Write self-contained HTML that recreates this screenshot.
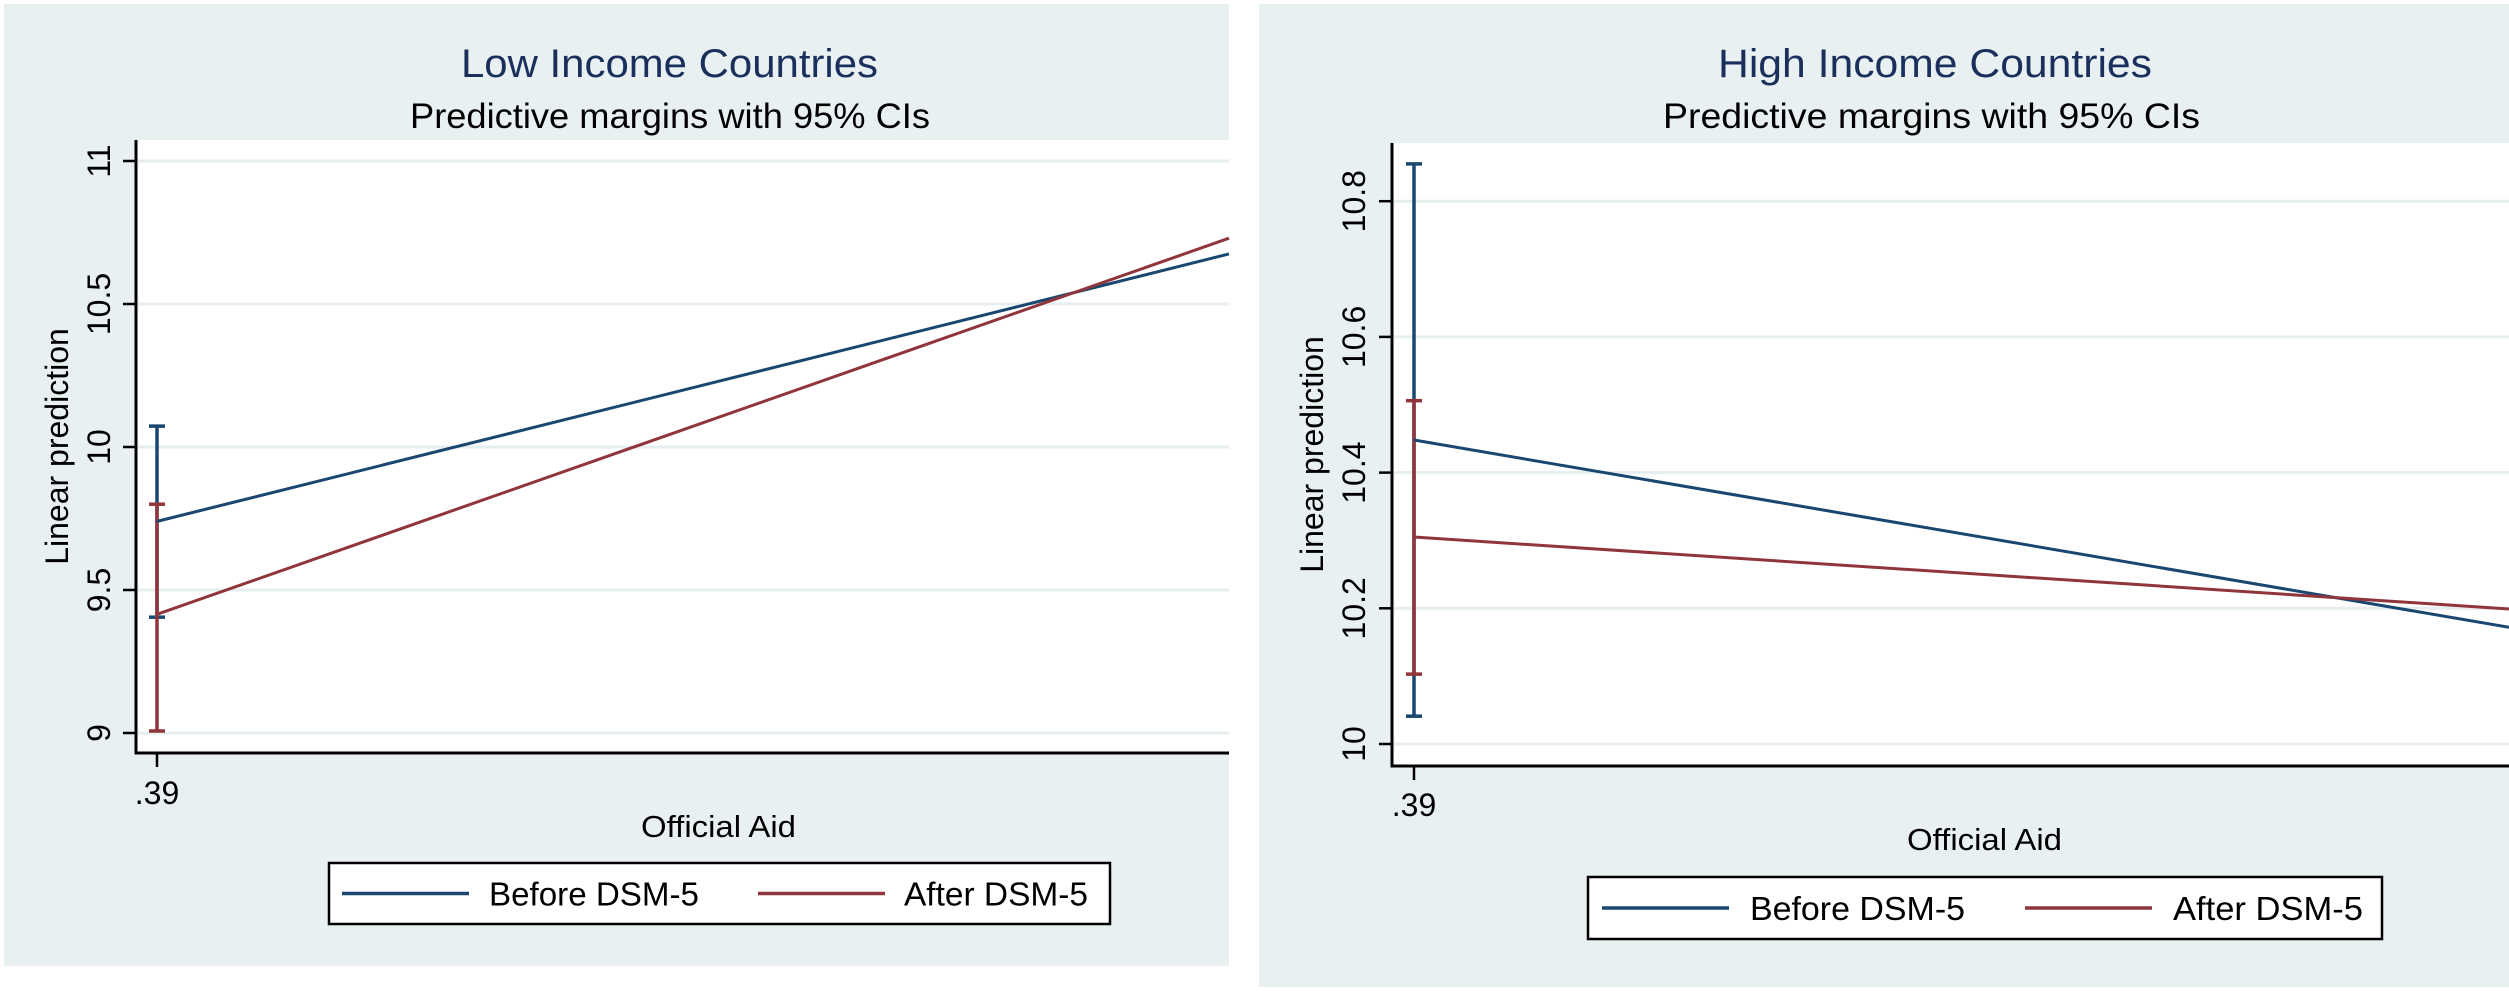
<!DOCTYPE html>
<html><head><meta charset="utf-8"><style>
html,body{margin:0;padding:0;background:#fff;}
svg{display:block;font-family:"Liberation Sans",Arial,sans-serif;}
</style></head>
<body>
<svg id="chart" width="2509" height="991" viewBox="0 0 2509 991" xmlns="http://www.w3.org/2000/svg">
<rect x="0" y="0" width="2509" height="991" fill="#ffffff"/>
</svg>
<script>
// ---- data ----
const xValues = [0.39, 1.0];
const xTickValues = [0.39];
const xTickLabels = [".39"];
const lowBefore = [9.74, 10.675];
const lowAfter = [9.415, 10.73];
const lowBeforeCI = [9.405, 10.073];
const lowAfterCI = [9.007, 9.80];
const lowTicks = [9, 9.5, 10, 10.5, 11];
const lowTickLabels = ["9", "9.5", "10", "10.5", "11"];
const highBefore = [10.448, 10.172];
const highAfter = [10.305, 10.199];
const highBeforeCI = [10.041, 10.855];
const highAfterCI = [10.103, 10.506];
const highTicks = [10, 10.2, 10.4, 10.6, 10.8];
const highTickLabels = ["10", "10.2", "10.4", "10.6", "10.8"];
const seriesNames = ["Before DSM-5", "After DSM-5"];

const NS = "http://www.w3.org/2000/svg";
const svg = document.getElementById("chart");
const BLUE = "#1a476f", RED = "#90353b", BG = "#e8f0f2", GRID = "#e6eef0";

function el(tag, attrs, parent) {
  const e = document.createElementNS(NS, tag);
  for (const k in attrs) e.setAttribute(k, attrs[k]);
  (parent || svg).appendChild(e);
  return e;
}
function txt(s, attrs, parent) { const t = el("text", attrs, parent); t.textContent = s; return t; }

function panel(cfg) {
  const g = el("g", {});
  
  
  const bg = el("rect", {x: cfg.px, y: cfg.py, width: cfg.pw, height: cfg.ph, fill: BG}, g);
  
  
  const pl = el("rect", {x: cfg.ax, y: cfg.top, width: cfg.right - cfg.ax, height: cfg.bottom - cfg.top, fill: "#fff"}, g);
  
  
  const yS = v => cfg.y0px + (v - cfg.y0) * cfg.ppu * -1;
  const xS = v => cfg.x0px + (v - xValues[0]) / (xValues[1] - xValues[0]) * (cfg.right - cfg.x0px);
  cfg.ticks.forEach((t, i) => {
    const y = yS(t);
    const gl = el("line", {x1: cfg.ax + 2, x2: cfg.right, y1: y, y2: y, stroke: GRID, "stroke-width": 3}, g);
    
    
    const tk = el("line", {x1: cfg.ax - 13, x2: cfg.ax, y1: y, y2: y, stroke: "#000", "stroke-width": 2.5}, g);
    
    
    const lb = txt(cfg.tickLabels[i], {x: 0, y: 0, "font-size": 32, "text-anchor": "middle", fill: "#000",
      transform: `translate(${cfg.ytlx},${y}) rotate(-90)`}, g);
    
    
  });
  const ya = el("line", {x1: cfg.ax, x2: cfg.ax, y1: cfg.top, y2: cfg.bottom + 1.5, stroke: "#000", "stroke-width": 3}, g);
  
  
  const xa = el("line", {x1: cfg.ax - 1.5, x2: cfg.right, y1: cfg.bottom, y2: cfg.bottom, stroke: "#000", "stroke-width": 3}, g);
  
  
  xTickValues.forEach((v, i) => {
    const x = xS(v);
    const tk = el("line", {x1: x, x2: x, y1: cfg.bottom, y2: cfg.bottom + 14, stroke: "#000", "stroke-width": 2.5}, g);
    
    
    const lb = txt(xTickLabels[i], {x: x, y: cfg.xtly, "font-size": 32, "text-anchor": "middle"}, g);
    
    
  });
  function ci(vals, color, name) {
    const x = xS(xValues[0]);
    const e = el("g", {stroke: color, "stroke-width": 3.5}, g);
    
    
    el("line", {x1: x, x2: x, y1: yS(vals[0]), y2: yS(vals[1])}, e);
    el("line", {x1: x - 8, x2: x + 8, y1: yS(vals[0]), y2: yS(vals[0])}, e);
    el("line", {x1: x - 8, x2: x + 8, y1: yS(vals[1]), y2: yS(vals[1])}, e);
  }
  ci(cfg.bci, BLUE, 'ci-before');
  ci(cfg.aci, RED, 'ci-after');
  function line(vals, color, name) {
    const p = vals.map((v, i) => xS(xValues[i]) + "," + yS(v)).join(" ");
    const l = el("polyline", {points: p, fill: "none", stroke: color, "stroke-width": 3}, g);
    
    
  }
  line(cfg.before, BLUE, 'line-before-dsm5');
  line(cfg.after, RED, 'line-after-dsm5');
  const t1 = txt(cfg.title, {x: cfg.tx, y: 77, "font-size": 40, fill: "#1a2f5c", textLength: cfg.tw, lengthAdjust: "spacingAndGlyphs"}, g);
  
  
  const t2 = txt("Predictive margins with 95% CIs", {x: cfg.sx, y: 128, "font-size": 35, fill: "#000", textLength: cfg.sw, lengthAdjust: "spacingAndGlyphs"}, g);
  
  
  const xt = txt("Official Aid", {x: cfg.xlx, y: cfg.xly, "font-size": 31, textLength: 155, lengthAdjust: "spacingAndGlyphs"}, g);
  
  
  const yt = txt("Linear prediction", {x: 0, y: 0, "font-size": 32, "text-anchor": "middle",
    transform: `translate(${cfg.ytx},${(cfg.top + cfg.bottom) / 2}) rotate(-90)`}, g);
  
  
  const L = cfg.leg;
  const lg = el("g", {}, g);
  
  
  el("rect", {x: L.x, y: L.y, width: L.w, height: L.h, fill: "#fff", stroke: "#000", "stroke-width": 2.5}, lg);
  const ly = L.y + L.h / 2;
  const e1 = el("line", {x1: L.b1, x2: L.b1 + 127, y1: ly, y2: ly, stroke: BLUE, "stroke-width": 3.5}, lg);
  
  
  const l1 = txt(seriesNames[0], {x: L.t1, y: ly + 12, "font-size": 33, textLength: L.w1, lengthAdjust: "spacingAndGlyphs"}, lg);
  
  
  const e2 = el("line", {x1: L.b2, x2: L.b2 + 127, y1: ly, y2: ly, stroke: RED, "stroke-width": 3.5}, lg);
  
  
  const l2 = txt(seriesNames[1], {x: L.t2, y: ly + 12, "font-size": 33, textLength: L.w2, lengthAdjust: "spacingAndGlyphs"}, lg);
  
  
}

panel({name: "low-income-panel", px: 4, py: 4, pw: 1225, ph: 962,
  ax: 136, top: 140, bottom: 753, right: 1229, x0px: 157,
  y0: 10, y0px: 447, ppu: 286, ticks: lowTicks, tickLabels: lowTickLabels, ytlx: 110, xtly: 804,
  before: lowBefore, after: lowAfter, bci: lowBeforeCI, aci: lowAfterCI,
  title: "Low Income Countries", tx: 461, tw: 417, sx: 410, sw: 520,
  xlx: 641, xly: 837, ytx: 68,
  leg: {x: 329, y: 863, w: 781, h: 61, b1: 342, t1: 489, w1: 210, b2: 758, t2: 904, w2: 184}});

panel({name: "high-income-panel", px: 1259, py: 4, pw: 1250, ph: 983,
  ax: 1392, top: 143, bottom: 766, right: 2509, x0px: 1414,
  y0: 10, y0px: 744, ppu: 678.5, ticks: highTicks, tickLabels: highTickLabels, ytlx: 1365, xtly: 816,
  before: highBefore, after: highAfter, bci: highBeforeCI, aci: highAfterCI,
  title: "High Income Countries", tx: 1718, tw: 434, sx: 1663, sw: 537,
  xlx: 1907, xly: 850, ytx: 1323,
  leg: {x: 1588, y: 877, w: 794, h: 62, b1: 1602, t1: 1750, w1: 215, b2: 2025, t2: 2173, w2: 190}});
</script>
</body></html>
